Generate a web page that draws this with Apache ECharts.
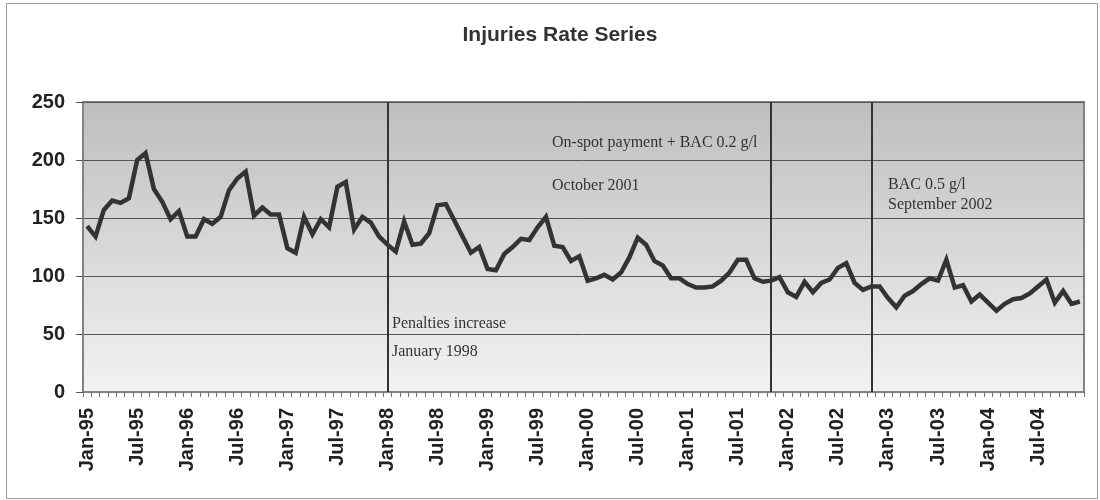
<!DOCTYPE html>
<html>
<head>
<meta charset="utf-8">
<script src="https://cdn.jsdelivr.net/npm/echarts@6/dist/echarts.min.js"></script>
<style>
html,body{margin:0;padding:0;background:#fff;}
#chart{width:1100px;height:500px;}
</style>
</head>
<body>
<div id="chart"></div>
<script>
var monthNames = ['Jan','Feb','Mar','Apr','May','Jun','Jul','Aug','Sep','Oct','Nov','Dec'];
var yearLabels = ['95','96','97','98','99','00','01','02','03','04'];
var injuryRates = [
  143,134,157,165,163,167,200,206,175,164,149,156,
  134,134,149,145,151,174,184,190,152,159,153,153,
  124,120,151,136,149,142,177,181,140,151,146,134,
  127,121,147,127,128,137,161,162,148,134,120,125,
  106,105,119,125,132,131,142,151,126,125,113,117,
  96,98,101,97,103,116,133,127,113,109,98,98,
  93,90,90,91,96,103,114,114,98,95,96,99,
  86,82,95,86,94,97,107,111,94,88,91,91,
  81,73,83,87,93,98,96,114,90,92,78,84,
  77,70,76,80,81,85,91,97,77,87,76,78
];
var eventMonths = ['Jan-98','Nov-01','Nov-02'];

var categories = [];
yearLabels.forEach(function(y){ monthNames.forEach(function(m){ categories.push(m + '-' + y); }); });

var sansBold = '"Liberation Sans", Arial, Helvetica, sans-serif';
var serif = '"Liberation Serif", "Times New Roman", serif';
var annoFont = '16px ' + serif;

var chart = echarts.init(document.getElementById('chart'));
chart.setOption({
  animation: false,
  backgroundColor: '#ffffff',
  title: {
    text: 'Injuries Rate Series',
    left: 555, top: 20, textAlign: 'center',
    textStyle: { fontFamily: sansBold, fontWeight: 'bold', fontSize: 21, color: '#333' }
  },
  grid: {
    left: 83, right: 16, top: 102, bottom: 108,
    show: true,
    borderColor: '#8b8080', borderWidth: 2,
    backgroundColor: { type: 'linear', x: 0, y: 0, x2: 0, y2: 1,
      colorStops: [{ offset: 0, color: '#bebebe' }, { offset: 1, color: '#f2f2f2' }] }
  },
  xAxis: {
    type: 'category', data: categories, boundaryGap: true,
    axisLine: { show: true, lineStyle: { color: '#8b8080', width: 2 } },
    axisTick: { show: true, interval: 0, length: 5, lineStyle: { color: '#777' } },
    axisLabel: { interval: 5, rotate: 90, margin: 16, fontFamily: sansBold, fontWeight: 'bold', fontSize: 20, color: '#222' },
    splitLine: { show: false }
  },
  yAxis: {
    type: 'value', min: 0, max: 250, interval: 50,
    axisLine: { show: true, lineStyle: { color: '#8b8080', width: 2 } },
    axisTick: { show: true, length: 7, lineStyle: { color: '#555' } },
    axisLabel: { margin: 18, fontFamily: sansBold, fontWeight: 'bold', fontSize: 20, color: '#222' },
    splitLine: { show: true, lineStyle: { color: '#555', width: 1 } }
  },
  series: [{
    type: 'line', data: injuryRates, symbol: 'none',
    lineStyle: { color: '#333', width: 4.5, join: 'miter' },
    markLine: {
      silent: true, symbol: ['none','none'], label: { show: false },
      lineStyle: { color: '#333', width: 2, type: 'solid' },
      data: eventMonths.map(function(m){ return { xAxis: m }; })
    }
  }],
  graphic: [
    { type: 'rect', shape: { x: 6.5, y: 3.5, width: 1091, height: 495 }, style: { fill: 'none', stroke: '#999', lineWidth: 1 }, silent: true, z: -1 },
    { type: 'text', left: 392, top: 316, style: { text: 'Penalties increase', font: annoFont, fill: '#333' } },
    { type: 'text', left: 392, top: 344, style: { text: 'January 1998', font: annoFont, fill: '#333' } },
    { type: 'text', left: 552, top: 135, style: { text: 'On-spot payment + BAC 0.2 g/l', font: annoFont, fill: '#333' } },
    { type: 'text', left: 552, top: 178, style: { text: 'October 2001', font: annoFont, fill: '#333' } },
    { type: 'text', left: 888, top: 177, style: { text: 'BAC 0.5 g/l', font: annoFont, fill: '#333' } },
    { type: 'text', left: 888, top: 197, style: { text: 'September 2002', font: annoFont, fill: '#333' } }
  ]
});
</script>
</body>
</html>
